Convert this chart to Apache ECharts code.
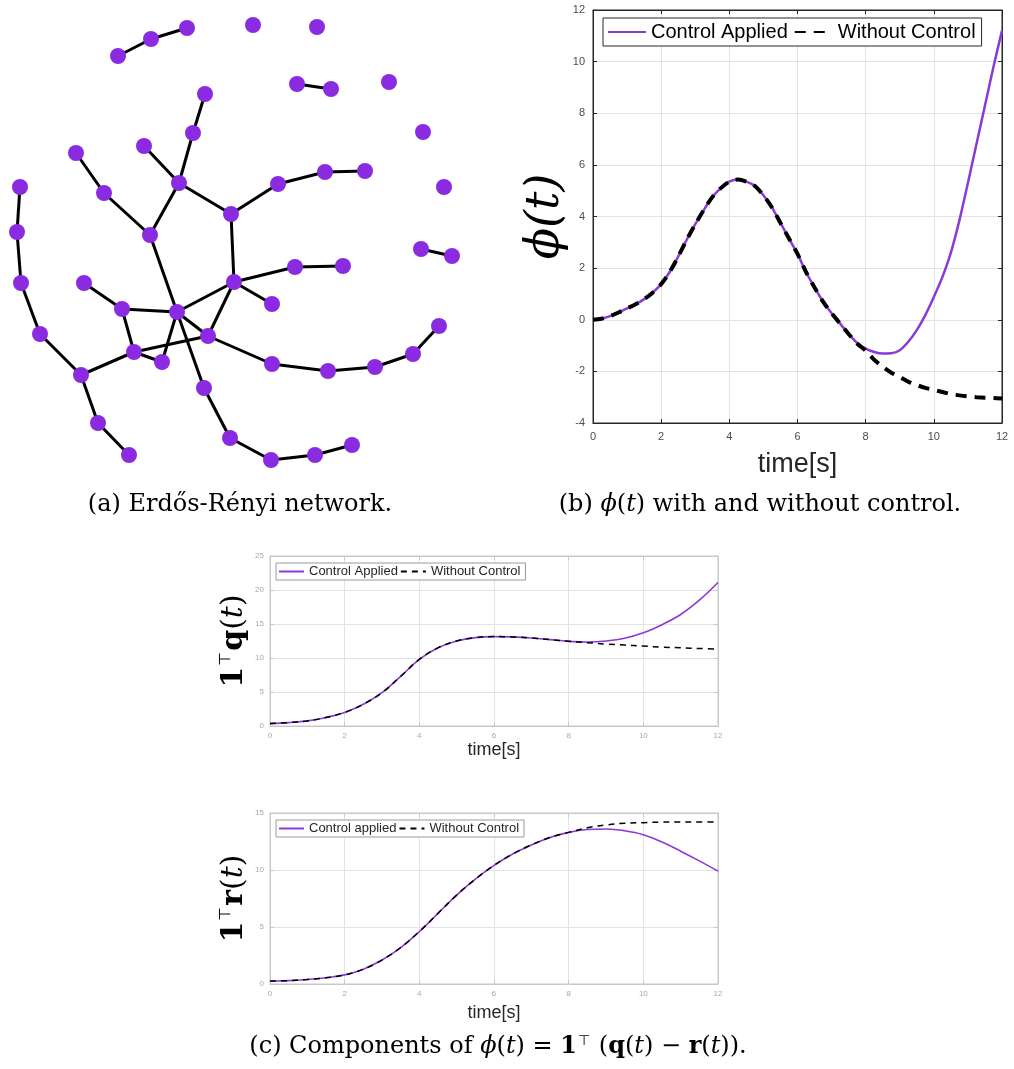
<!DOCTYPE html>
<html>
<head>
<meta charset="utf-8">
<script src="https://cdn.jsdelivr.net/npm/echarts@6/dist/echarts.min.js"></script>
<style>
  html, body { margin: 0; padding: 0; background: #fff; }
  #main { width: 1014px; height: 1069px; }
</style>
</head>
<body>
<div id="main"></div>
<script>
// (a) network: node positions (px of the panel)
const nodeXY = [
  [118,56],[151,39],[187,28],[253,25],[317,27],[297,84],[331,89],[389,82],[205,94],[193,133],
  [423,132],[144,146],[76,153],[179,183],[365,171],[325,172],[278,184],[444,187],[20,187],[104,193],
  [231,214],[150,235],[17,232],[421,249],[452,256],[295,267],[343,266],[234,282],[84,283],[21,283],
  [272,304],[122,309],[177,312],[439,326],[208,336],[40,334],[134,352],[162,362],[413,354],[272,364],
  [328,371],[375,367],[81,375],[204,388],[98,423],[230,438],[352,445],[315,455],[271,460],[129,455]
];
// edges, 1-based node numbers
const edges = [
  [1,2],[2,3],[6,7],[24,25],[9,10],[10,14],[12,14],[14,21],[14,22],[13,20],[20,22],
  [21,17],[17,16],[16,15],[21,28],[22,33],[28,26],[26,27],[28,31],[28,33],[28,35],
  [29,32],[32,33],[32,37],[33,38],[33,35],[33,44],[37,35],[37,38],[37,43],[35,40],
  [40,41],[41,42],[42,39],[39,34],[19,23],[23,30],[30,36],[36,43],[43,45],[45,50],
  [44,46],[46,49],[49,48],[48,47]
];

// (b) phi(t), sampled every 0.25 s
const timeB = [0,0.25,0.5,0.75,1,1.25,1.5,1.75,2,2.25,2.5,2.75,3,3.25,3.5,3.75,4,4.25,4.5,4.75,5,5.25,5.5,5.75,6,
  6.25,6.5,6.75,7,7.25,7.5,7.75,8,8.25,8.5,8.75,9,9.25,9.5,9.75,10,10.25,10.5,10.75,11,11.25,11.5,11.75,12];
const phiCtrl = [0,0.04,0.14,0.28,0.44,0.6,0.8,1.05,1.38,1.85,2.45,3.1,3.7,4.25,4.75,5.1,5.35,5.43,5.35,5.18,4.82,4.35,3.75,3.15,2.55,
  1.85,1.25,0.7,0.25,-0.15,-0.55,-0.9,-1.12,-1.25,-1.31,-1.3,-1.18,-0.85,-0.4,0.18,0.88,1.65,2.6,3.85,5.3,6.8,8.3,9.8,11.2];
const phiFree = [0,0.04,0.14,0.28,0.44,0.6,0.8,1.05,1.38,1.85,2.45,3.1,3.7,4.25,4.75,5.1,5.35,5.43,5.35,5.18,4.82,4.35,3.75,3.15,2.55,
  1.85,1.25,0.7,0.25,-0.15,-0.55,-0.92,-1.2,-1.55,-1.82,-2.05,-2.22,-2.4,-2.53,-2.64,-2.72,-2.8,-2.88,-2.93,-2.97,-3.0,-3.02,-3.03,-3.05];

// (c) 1'q(t) and 1'r(t), sampled every 0.5 s
const timeC = [0,0.5,1,1.5,2,2.5,3,3.5,4,4.5,5,5.5,6,6.5,7,7.5,8,8.5,9,9.5,10,10.5,11,11.5,12];
const qCtrl = [0.35,0.5,0.75,1.25,2.0,3.2,4.9,7.3,9.8,11.5,12.5,13.0,13.15,13.1,12.95,12.7,12.45,12.35,12.5,12.9,13.7,14.9,16.4,18.5,21.1];
const qFree = [0.35,0.5,0.75,1.25,2.0,3.2,4.9,7.3,9.8,11.5,12.5,13.0,13.15,13.1,12.95,12.7,12.45,12.25,12.05,11.9,11.75,11.6,11.5,11.4,11.3];
const rCtrl = [0.26,0.3,0.4,0.55,0.8,1.3,2.1,3.2,4.6,6.2,7.8,9.2,10.4,11.4,12.2,12.85,13.3,13.55,13.6,13.45,13.1,12.45,11.65,10.8,9.9];
const rFree = [0.26,0.3,0.4,0.55,0.8,1.3,2.1,3.2,4.6,6.2,7.8,9.2,10.4,11.4,12.2,12.85,13.3,13.7,13.95,14.1,14.15,14.2,14.2,14.2,14.2];

const xTicks = {min: 0, max: 12, interval: 2};
const phiTicks = {min: -4, max: 12, interval: 2};
const qTicks = {min: 0, max: 25, interval: 5};
const rTicks = {min: 0, max: 15, interval: 5};

const legendText = {
  bCtrl: 'Control Applied', bFree: 'Without Control',
  qCtrl: 'Control Applied', qFree: 'Without Control',
  rCtrl: 'Control applied', rFree: 'Without Control'
};

const PURPLE = '#8a3ad6';
const NODE = '#8a2be2';

const pair = (xs, ys) => xs.map((x, i) => [x, ys[i]]);

const chart = echarts.init(document.getElementById('main'));

// matlab-like boxed axes: bottom/left carry labels, top/right only ticks
function xAxes(grid, t, lbl, lineColor, name, nameSize, nameGap) {
  const base = {
    type: 'value', gridIndex: grid, min: t.min, max: t.max, interval: t.interval,
    axisLine: {show: true, onZero: false, lineStyle: {color: lineColor}},
    axisTick: {show: true, inside: true, length: 4, lineStyle: {color: lineColor}},
    splitLine: {show: false}
  };
  return [
    Object.assign({}, base, {
      position: 'bottom',
      axisLabel: {show: true, color: lbl.color, fontSize: lbl.size, margin: lbl.margin, fontFamily: 'Liberation Sans'},
      splitLine: {show: true, lineStyle: {color: '#e3e3e3'}},
      name: name, nameLocation: 'middle', nameGap: nameGap,
      nameTextStyle: {fontFamily: 'Liberation Sans', fontSize: nameSize, color: '#262626'}
    }),
    Object.assign({}, base, {position: 'top', axisLabel: {show: false}})
  ];
}
function yAxes(grid, t, lbl, lineColor, name, nameStyle, nameGap) {
  const base = {
    type: 'value', gridIndex: grid, min: t.min, max: t.max, interval: t.interval,
    axisLine: {show: true, onZero: false, lineStyle: {color: lineColor}},
    axisTick: {show: true, inside: true, length: 4, lineStyle: {color: lineColor}},
    splitLine: {show: false}
  };
  return [
    Object.assign({}, base, {
      position: 'left',
      axisLabel: {show: true, color: lbl.color, fontSize: lbl.size, margin: lbl.margin, fontFamily: 'Liberation Sans'},
      splitLine: {show: true, lineStyle: {color: '#e3e3e3'}},
      name: name, nameLocation: 'middle', nameGap: nameGap, nameRotate: 90,
      nameTextStyle: nameStyle
    }),
    Object.assign({}, base, {position: 'right', axisLabel: {show: false}})
  ];
}

const serif = 'DejaVu Serif';
const bLbl = {color: '#4d4d4d', size: 11, margin: 8};
const cLbl = {color: '#a8a8a8', size: 8, margin: 6};

const compRich = {
  b: {fontFamily: serif, fontWeight: 'bold', fontSize: 30, color: '#000'},
  sup: {fontFamily: 'DejaVu Sans', fontSize: 16, color: '#000', padding: [0, 1, 16, 1]},
  n: {fontFamily: serif, fontSize: 30, color: '#000'},
  it: {fontFamily: serif, fontStyle: 'italic', fontSize: 30, color: '#000'}
};

const capRich = {
  it: {fontFamily: serif, fontStyle: 'italic', fontSize: 24},
  b: {fontFamily: serif, fontWeight: 'bold', fontSize: 24},
  sup: {fontFamily: 'DejaVu Sans', fontSize: 14, padding: [0, 1, 12, 1]}
};

function legendBox(names, left, top, o) {
  return Object.assign({
    data: names, formatter: n => legendText[n],
    left: left, top: top, orient: 'horizontal',
    itemStyle: {opacity: 0}, selectedMode: false, backgroundColor: '#fff'
  }, o);
}

const option = {
  animation: false,
  backgroundColor: '#fff',
  grid: [
    {left: 0, top: 0, width: 470, height: 480},
    {left: 593, top: 10, width: 409, height: 413, show: true, borderColor: '#262626', borderWidth: 1},
    {left: 270, top: 556, width: 448, height: 170, show: true, borderColor: '#c8c8c8', borderWidth: 1},
    {left: 270, top: 813, width: 448, height: 171, show: true, borderColor: '#c8c8c8', borderWidth: 1}
  ],
  xAxis: [
    {type: 'value', gridIndex: 0, min: 0, max: 470, show: false},
    ...xAxes(1, xTicks, bLbl, '#262626', 'time[s]', 27, 28),
    ...xAxes(2, xTicks, cLbl, '#c8c8c8', 'time[s]', 18, 14),
    ...xAxes(3, xTicks, cLbl, '#c8c8c8', 'time[s]', 18, 20)
  ],
  yAxis: [
    {type: 'value', gridIndex: 0, min: 0, max: 480, inverse: true, show: false},
    ...yAxes(1, phiTicks, bLbl, '#262626', 'ϕ(t)',
      {fontFamily: serif, fontStyle: 'italic', fontSize: 46, color: '#000'}, 20),
    ...yAxes(2, qTicks, cLbl, '#c8c8c8', '{b|1}{sup|⊤}{b|q}{n|(}{it|t}{n|)}',
      {rich: compRich}, 20),
    ...yAxes(3, rTicks, cLbl, '#c8c8c8', '{b|1}{sup|⊤}{b|r}{n|(}{it|t}{n|)}',
      {rich: compRich}, 20)
  ],
  legend: [
    legendBox(['bCtrl', 'bFree'], 603, 18, {
      itemWidth: 38, itemHeight: 12, itemGap: 6,
      padding: [4, 6, 4, 4], borderColor: '#262626', borderWidth: 1,
      textStyle: {fontFamily: 'Liberation Sans', fontSize: 20, color: '#000'}
    }),
    legendBox(['qCtrl', 'qFree'], 276, 563, {
      itemWidth: 25, itemHeight: 8, itemGap: 2,
      padding: [2, 5, 2, 2], borderColor: '#9a9a9a', borderWidth: 1,
      textStyle: {fontFamily: 'Liberation Sans', fontSize: 13, color: '#262626'}
    }),
    legendBox(['rCtrl', 'rFree'], 276, 820, {
      itemWidth: 25, itemHeight: 8, itemGap: 2,
      padding: [2, 5, 2, 2], borderColor: '#9a9a9a', borderWidth: 1,
      textStyle: {fontFamily: 'Liberation Sans', fontSize: 13, color: '#262626'}
    })
  ],
  series: [
    {
      type: 'graph', coordinateSystem: 'cartesian2d', xAxisIndex: 0, yAxisIndex: 0,
      symbol: 'circle', symbolSize: 16,
      itemStyle: {color: NODE},
      lineStyle: {color: '#000', width: 3, opacity: 1, curveness: 0},
      data: nodeXY.map((p, i) => ({name: 'n' + (i + 1), value: p})),
      links: edges.map(e => ({source: e[0] - 1, target: e[1] - 1}))
    },
    {
      name: 'bCtrl', type: 'line', xAxisIndex: 1, yAxisIndex: 2, smooth: 0.3,
      symbol: 'none', data: pair(timeB, phiCtrl),
      lineStyle: {color: PURPLE, width: 2.5}, itemStyle: {color: PURPLE}
    },
    {
      name: 'bFree', type: 'line', xAxisIndex: 1, yAxisIndex: 2, smooth: 0.3,
      symbol: 'none', data: pair(timeB, phiFree),
      lineStyle: {color: '#000', width: 4, type: [11, 8]}, itemStyle: {color: '#000'}
    },
    {
      name: 'qCtrl', type: 'line', xAxisIndex: 3, yAxisIndex: 4, smooth: 0.4,
      symbol: 'none', data: pair(timeC, qCtrl),
      lineStyle: {color: PURPLE, width: 1.6}, itemStyle: {color: PURPLE}
    },
    {
      name: 'qFree', type: 'line', xAxisIndex: 3, yAxisIndex: 4, smooth: 0.4,
      symbol: 'none', data: pair(timeC, qFree),
      lineStyle: {color: '#000', width: 1.5, type: [6, 5]}, itemStyle: {color: '#000'}
    },
    {
      name: 'rCtrl', type: 'line', xAxisIndex: 5, yAxisIndex: 6, smooth: 0.4,
      symbol: 'none', data: pair(timeC, rCtrl),
      lineStyle: {color: PURPLE, width: 1.6}, itemStyle: {color: PURPLE}
    },
    {
      name: 'rFree', type: 'line', xAxisIndex: 5, yAxisIndex: 6, smooth: 0.4,
      symbol: 'none', data: pair(timeC, rFree),
      lineStyle: {color: '#000', width: 1.5, type: [6, 5]}, itemStyle: {color: '#000'}
    }
  ],
  graphic: [
    {
      type: 'text',
      style: {
        text: '(a) Erdős-Rényi network.', x: 240, y: 505,
        fontFamily: serif, fontSize: 24, fill: '#000', align: 'center', verticalAlign: 'middle'
      }
    },
    {
      type: 'text',
      style: {
        text: '(b) {it|ϕ}({it|t}) with and without control.', x: 760, y: 505,
        fontFamily: serif, fontSize: 24, fill: '#000', align: 'center', verticalAlign: 'middle',
        rich: capRich
      }
    },
    {
      type: 'text',
      style: {
        text: '(c) Components of {it|ϕ}({it|t}) = {b|1}{sup|⊤} ({b|q}({it|t}) − {b|r}({it|t})).', x: 498, y: 1047,
        fontFamily: serif, fontSize: 24, fill: '#000', align: 'center', verticalAlign: 'middle',
        rich: capRich
      }
    }
  ]
};

chart.setOption(option);
</script>
</body>
</html>
